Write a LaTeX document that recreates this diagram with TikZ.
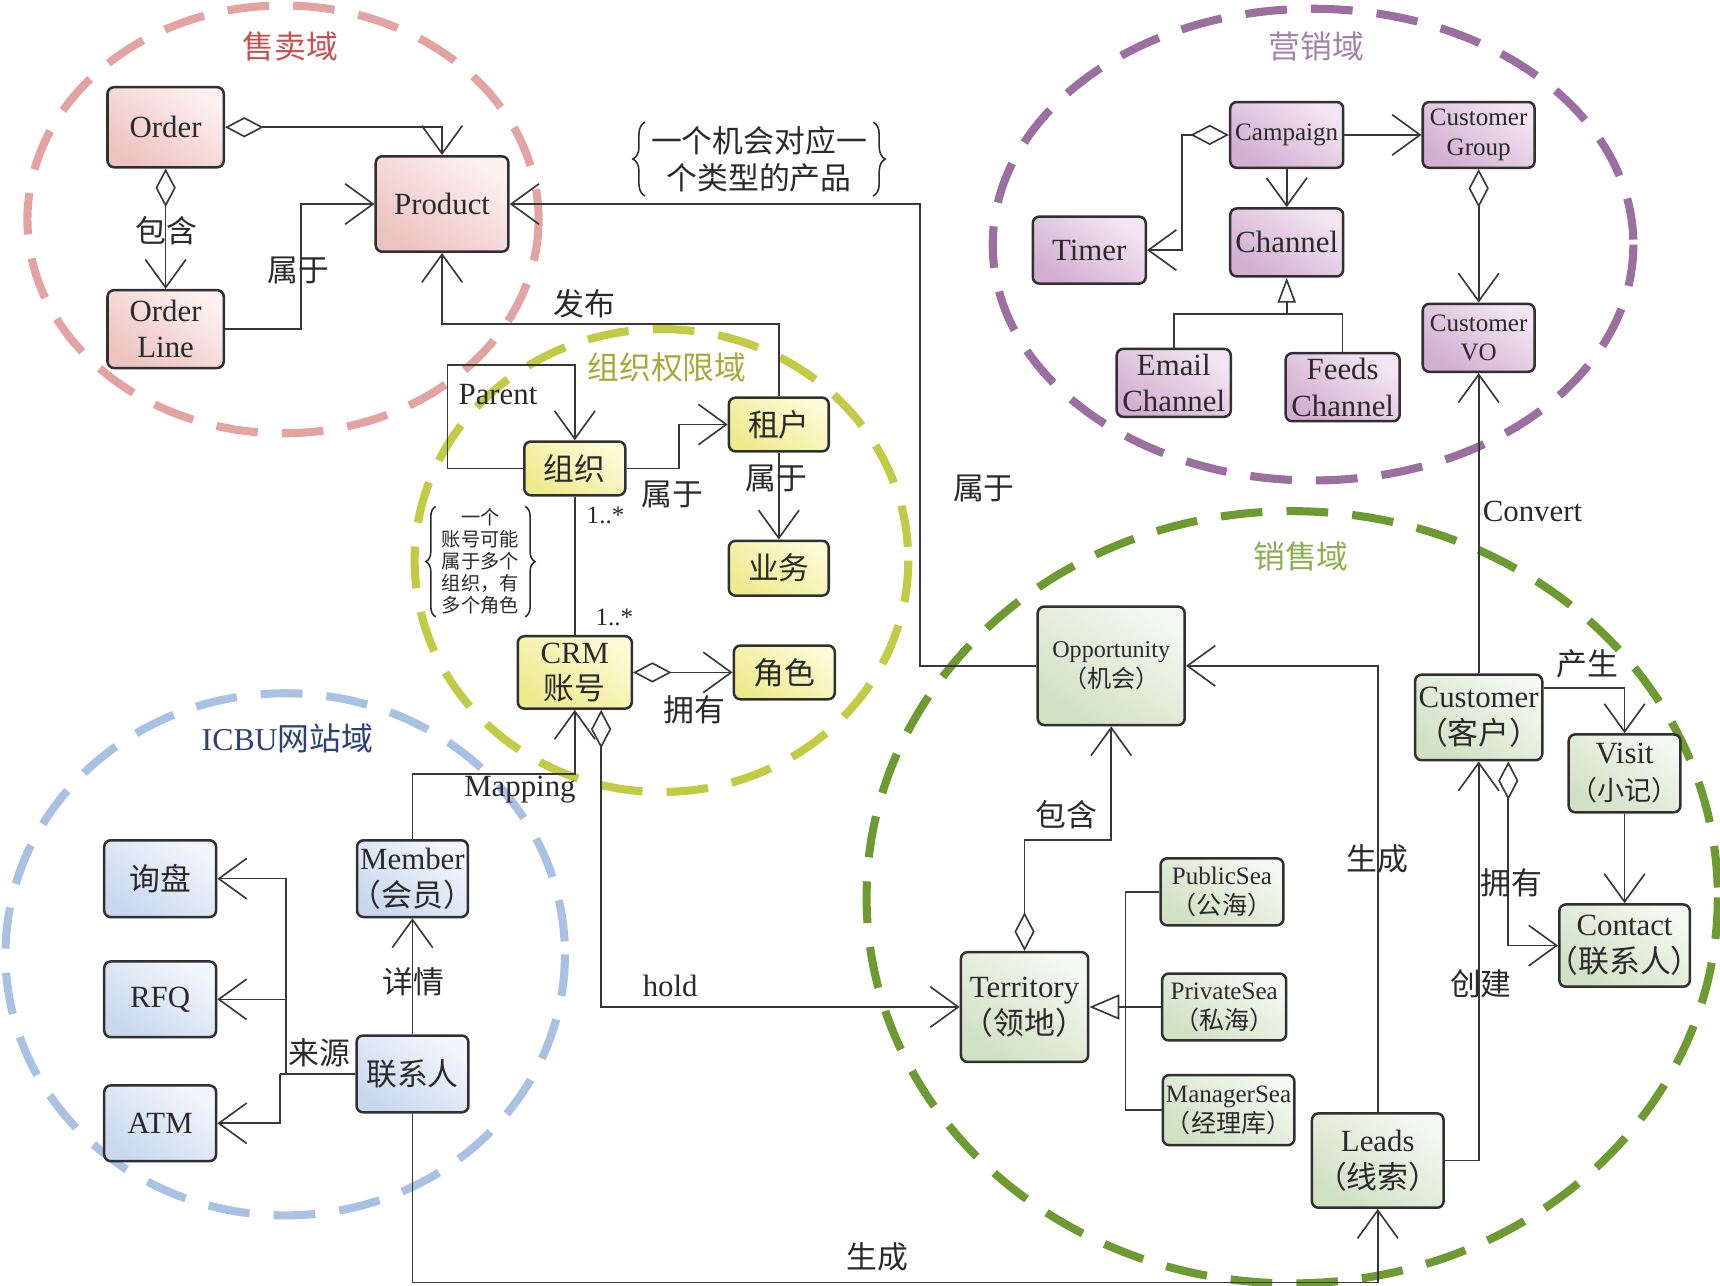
\documentclass[tikz,border=0pt]{standalone}
\usepackage{fontspec}
\setmainfont{Liberation Serif}
\newfontfamily\cjk{Noto Sans CJK SC}
\newfontfamily\cjkh{Noto Sans CJK SC}[RawFeature=+halt]
\usetikzlibrary{arrows.meta,decorations.pathreplacing,calc}
\newcommand\zpar[1]{{\cjkh （#1）}}
\newcommand\zfull[1]{{\cjk （#1）}}
\definecolor{txt}{HTML}{2A2A2A}
\definecolor{bord}{HTML}{303030}
\definecolor{lin}{HTML}{383838}
\definecolor{redd}{HTML}{E3A3A3}
\definecolor{redt}{HTML}{C8504F}
\definecolor{purd}{HTML}{9B6FA0}
\definecolor{purt}{HTML}{A582AA}
\definecolor{yeld}{HTML}{C3CB45}
\definecolor{yelt}{HTML}{A8A838}
\definecolor{blud}{HTML}{A9C1E3}
\definecolor{blut}{HTML}{2B3F7A}
\definecolor{grnd}{HTML}{6E9A32}
\definecolor{grnt}{HTML}{8BB050}
\definecolor{rtop}{HTML}{FCF1F0}
\definecolor{rbot}{HTML}{EDC3C1}
\definecolor{ytop}{HTML}{FCFBD6}
\definecolor{ybot}{HTML}{EEEA8E}
\definecolor{ptop}{HTML}{F3E6F2}
\definecolor{pbot}{HTML}{D2AED1}
\definecolor{btop}{HTML}{F2F6FC}
\definecolor{bbot}{HTML}{C9D8EF}
\definecolor{gtop}{HTML}{F4F8F0}
\definecolor{gbot}{HTML}{D0E1C4}
\tikzset{
  dom/.style={line width=4.2pt, dash pattern=on 0.76cm off 0.44cm},
  box/.style={draw=bord, line width=1.3pt, rounded corners=0.12cm, align=center,
    inner sep=1pt, text=txt, font=\fontsize{16}{19}\selectfont},
  small/.style={font=\fontsize{13}{15.5}\selectfont},
  sz/.style 2 args={minimum width=#1*0.02cm, minimum height=#2*0.02cm},
  rbox/.style={box, top color=rtop, bottom color=rbot, shading angle=-35},
  ybox/.style={box, top color=ytop, bottom color=ybot, shading angle=-35},
  pbox/.style={box, top color=ptop, bottom color=pbot, shading angle=-35},
  bbox/.style={box, top color=btop, bottom color=bbot, shading angle=-35},
  gbox/.style={box, top color=gtop, bottom color=gbot, shading angle=-35},
  conn/.style={draw=lin, line width=0.85pt},
  av/.style={-{Straight Barb[length=14.5pt,width=21pt]}},
  dv/.style={{Diamond[open,length=20pt,width=10.5pt]}-{Straight Barb[length=14.5pt,width=21pt]}},
  tv/.style={-{Triangle[open,length=13pt,width=9.5pt]}},
  tvb/.style={-{Triangle[open,length=15.5pt,width=13pt]}},
  zl/.style={text=txt, font=\fontsize{16}{19}\selectfont\cjk, inner sep=1pt},
  ll/.style={text=txt, font=\fontsize{16}{19}\selectfont, inner sep=1pt},
  title/.style={font=\fontsize{16.5}{19}\selectfont\cjk, inner sep=1pt},
  brc/.style={decorate, decoration={brace, amplitude=0.22cm}, draw=txt, line width=0.8pt}
}
\begin{document}
\begin{tikzpicture}[x=0.02cm,y=-0.02cm]
\clip (0,0) rectangle (1568,1172);
\fill[white] (0,0) rectangle (1568,1172);

% domains
\draw[dom, draw=redd] (258,200) ellipse [x radius=233, y radius=195];
\draw[dom, draw=purd] (1197,223) ellipse [x radius=292, y radius=215];
\draw[dom, draw=yeld] (603,511) ellipse [x radius=225, y radius=211];
\draw[dom, draw=blud] (260,870) ellipse [x radius=255, y radius=238];
\draw[dom, draw=grnd] (1178,818) ellipse [x radius=388, y radius=352];

% nodes
\node[rbox, sz={106}{73}] (order) at (151,116) {Order};
\node[rbox, sz={106}{71}] (oline) at (151,300) {Order\\Line};
\node[rbox, sz={121}{87}] (product) at (403,186) {Product};

\node[ybox, sz={92}{49}] (zuzhi) at (524,427) {\cjk 组织};
\node[ybox, sz={91}{49}] (zuhu) at (710,387) {\cjk 租户};
\node[ybox, sz={91}{50}] (yewu) at (710,518) {\cjk 业务};
\node[ybox, sz={104}{66}] (crm) at (524,613) {CRM\\\cjk 账号};
\node[ybox, sz={92}{49}] (juese) at (715,613) {\cjk 角色};

\node[bbox, sz={102}{70}] (xunpan) at (146,801) {\cjk 询盘};
\node[bbox, sz={102}{69}] (rfq) at (146,911) {RFQ};
\node[bbox, sz={102}{69}] (atm) at (146,1024) {ATM};
\node[bbox, sz={101}{70}] (member) at (376,801) {Member\\\zpar{会员}};
\node[bbox, sz={102}{70}] (lxr) at (376,979) {\cjk 联系人};

\node[pbox, small, sz={103}{60}] (camp) at (1173,123) {Campaign};
\node[pbox, small, sz={102}{60}] (cg) at (1348,123) {Customer\\Group};
\node[pbox, sz={103}{61}] (timer) at (993,228) {Timer};
\node[pbox, sz={103}{62}] (chan) at (1173,221) {Channel};
\node[pbox, sz={104}{62}] (email) at (1070,349) {Email\\Channel};
\node[pbox, sz={104}{62}] (feeds) at (1224,353) {Feeds\\Channel};
\node[pbox, small, sz={102}{62}] (vo) at (1348,308) {Customer\\VO};

\node[gbox, font=\fontsize{12.5}{15.5}\selectfont, sz={134}{108}] (opp) at (1013,607) {Opportunity\\\zpar{机会}};
\node[gbox, sz={113}{78}] (cust) at (1348,654) {Customer\\\zfull{客户}};
\node[gbox, sz={100}{71}] (visit) at (1481,705) {Visit\\{\fontsize{14}{19}\selectfont\zfull{小记}}};
\node[gbox, sz={119}{75}] (contact) at (1481,862) {Contact\\\zpar{联系人}};
\node[gbox, sz={116}{100}] (terr) at (934,918) {Territory\\\zpar{领地}};
\node[gbox, small, sz={112}{61}] (pub) at (1114,813) {PublicSea\\\zpar{公海}};
\node[gbox, small, sz={113}{61}] (priv) at (1116,918) {PrivateSea\\\zpar{私海}};
\node[gbox, small, sz={120}{64}] (mgr) at (1120,1012) {ManagerSea\\\zpar{经理库}};
\node[gbox, sz={120}{86}] (leads) at (1256,1058) {Leads\\\zpar{线索}};

% connectors: sales domain (red)
\draw[conn, dv] (order.east) -| (product.north);
\draw[conn, dv] (order.south) -- (oline.north);
\draw[conn, av] (oline.east) -- ++(69,0) |- (product.west);
\draw[conn, av] (zuhu.north) -- ++(0,-66) -| (product.south);
\draw[conn, av] (opp.west) -- ++(-106,0) |- (product.east);

% org domain
\draw[conn, av] (zuzhi.west) -- ++(-69,0) -- ++(0,-94) -| (zuzhi.north);
\draw[conn, av] (zuzhi.east) -- ++(48,0) |- (zuhu.west);
\draw[conn, av] (zuhu.south) -- (yewu.north);
\draw[conn] (zuzhi.south) -- (crm.north);
\draw[conn, dv] (crm.east) -- (juese.west);
\draw[conn, dv] ($(crm.south)+(24,0)$) |- (terr.west);
\draw[conn, av] (member.north) -- ++(0,-59) -| (crm.south);

% ICBU domain
\coordinate (s1) at (261,979);
\coordinate (s2) at (255,979);
\draw[conn] (lxr.west) -- (s2);
\draw[conn, av] (s1) |- (xunpan.east);
\draw[conn, av] (s1) |- (rfq.east);
\draw[conn, av] (s2) |- (atm.east);
\draw[conn, av] (lxr.north) -- (member.south);
\draw[conn, av] (lxr.south) -- ++(0,154) -| (leads.south);

% marketing domain
\draw[conn, dv] (camp.west) -- ++(-43,0) |- (timer.east);
\draw[conn, av] (camp.east) -- (cg.west);
\draw[conn, av] (camp.south) -- (chan.north);
\coordinate (cj) at (1173,286);
\draw[conn] (email.north) |- (cj) -| (feeds.north);
\draw[conn, tv] (cj) -- (chan.south);
\draw[conn, dv] (cg.south) -- (vo.north);
\draw[conn, av] (cust.north) -- (vo.south);

% sales domain (green)
\draw[conn, dv] (terr.north) -- ++(0,-101) -| (opp.south);
\draw[conn, av] (leads.north) |- (opp.east);
\draw[conn, av] (leads.east) -| (cust.south);
\draw[conn, dv] ($(cust.south)+(27,0)$) |- (contact.west);
\draw[conn, av] ($(cust.east)+(0,-27)$) -| (visit.north);
\draw[conn, av] (visit.south) -- (contact.north);
\coordinate (tj) at (1026,918);
\draw[conn] (pub.west) -| (tj);
\draw[conn] (mgr.west) -| (tj);
\draw[conn] (priv.west) -- (tj);
\draw[conn, tvb] (tj) -- (terr.east);

% titles
\node[title, text=redt] (t1) at (265,42) {售卖域};
\node[title, text=purt] (t2) at (1200,42) {营销域};
\node[title, text=yelt] (t3) at (608,335) {组织权限域};
\node[title, text=blut] (t4) at (262,673) {{\fontsize{16.5}{19}\selectfont\rmfamily ICBU}网站域};
\node[title, text=grnt] (t5) at (1186,507) {销售域};

% labels
\node[zl] (l1) at (152,210) {包含};
\node[zl] (l2) at (272,247) {属于};
\node[zl] (l3) at (533,277) {发布};
\node[zl] (l4) at (897,445) {属于};
\node[ll] (l5) at (454,360) {Parent};
\node[zl] (l6) at (613,451) {属于};
\node[zl] (l7) at (708,436) {属于};
\node[ll, font=\fontsize{13}{15}\selectfont] (l8) at (552,470) {1..*};
\node[ll, font=\fontsize{13}{15}\selectfont] (l9) at (560,563) {1..*};
\node[zl] (l10) at (633,647) {拥有};
\node[ll] (l11) at (611,899) {hold};
\node[ll] (l12) at (474,720) {Mapping};
\node[zl] (l13) at (291,960) {来源};
\node[zl] (l14) at (377,895) {详情};
\node[zl] (l15) at (800,1146) {生成};
\node[zl] (l16) at (972,743) {包含};
\node[zl] (l17) at (1256,783) {生成};
\node[zl] (l18) at (1378,805) {拥有};
\node[zl] (l19) at (1350,897) {创建};
\node[zl] (l20) at (1447,605) {产生};
\node[ll] (l21) at (1397,466) {Convert};

% notes with braces
\node[zl, align=center, inner xsep=3pt, inner ysep=2pt] (n1) at (692,145) {一个机会对应一\\个类型的产品};
\draw[brc] (n1.south west) -- (n1.north west);
\draw[brc] (n1.north east) -- (n1.south east);
\node[zl, font=\fontsize{10}{11.4}\selectfont\cjk, align=center, inner xsep=3pt, inner ysep=1pt] (n2) at (438,512) {一个\\账号可能\\属于多个\\组织，有\\多个角色};
\draw[brc, decoration={brace, amplitude=0.18cm}] (n2.south west) -- (n2.north west);
\draw[brc, decoration={brace, amplitude=0.18cm}] (n2.north east) -- (n2.south east);
\end{tikzpicture}
\end{document}
